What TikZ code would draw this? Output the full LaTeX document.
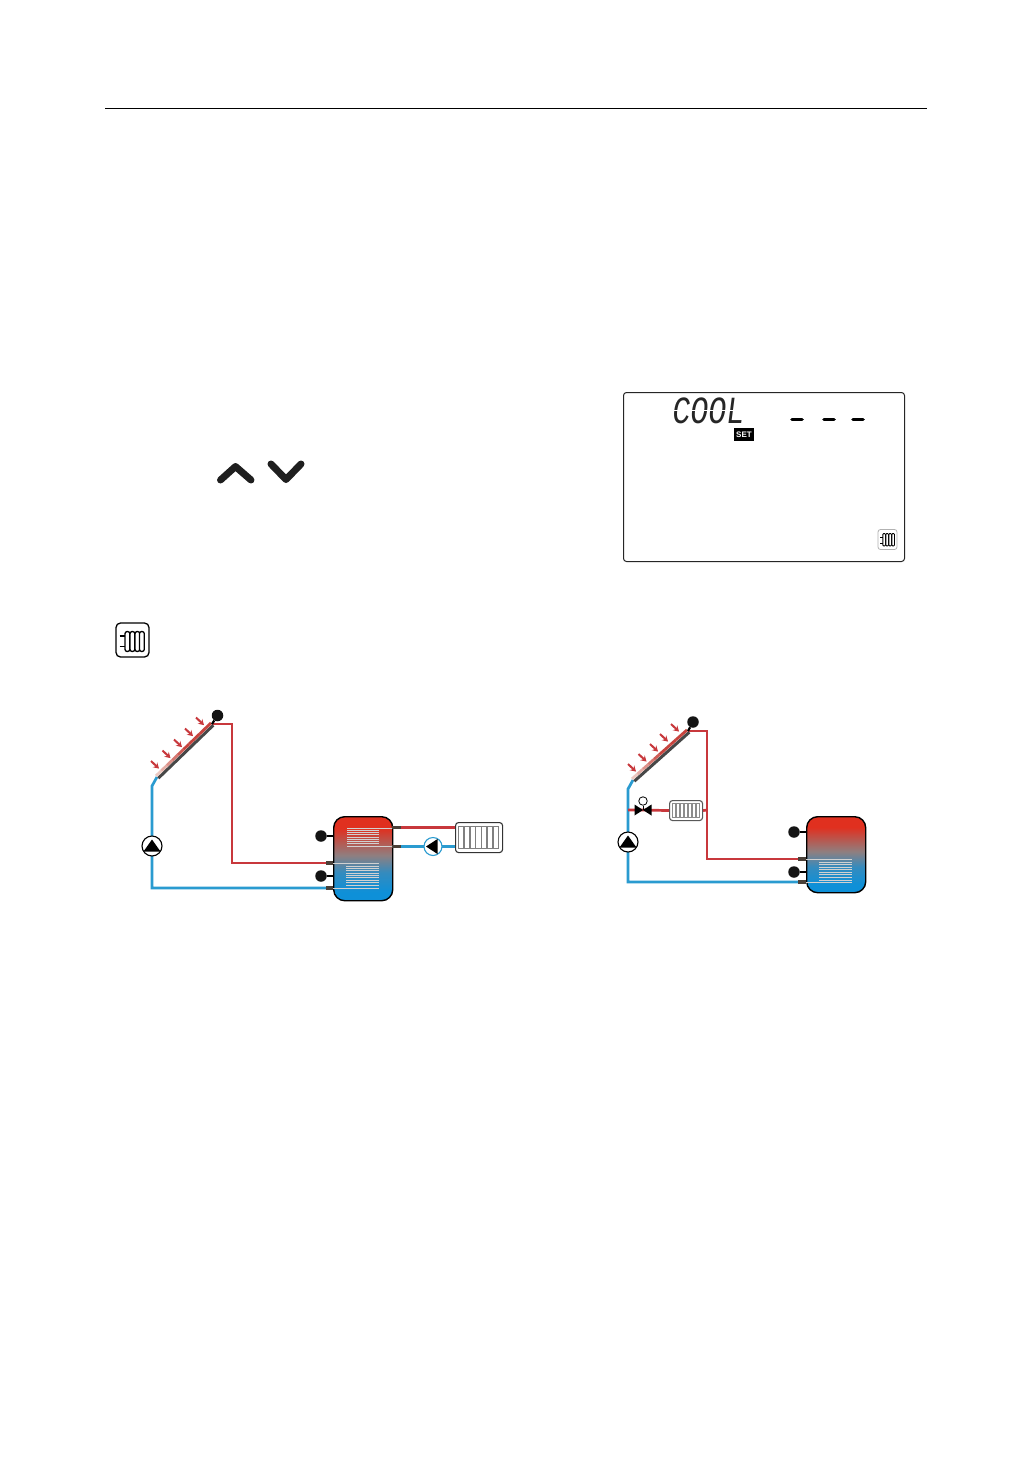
\documentclass[tikz,border=0pt]{standalone}
\usepackage{fontspec}
\setmainfont{Liberation Sans}
\newfontfamily\lcdfont{Liberation Mono}
\usetikzlibrary{arrows.meta,calc}
\definecolor{pred}{HTML}{C8383C}
\definecolor{pblue}{HTML}{2A9BD0}
\definecolor{stubc}{HTML}{4A4038}
\definecolor{tanktop}{HTML}{E0301F}
\definecolor{tankmid}{HTML}{8F7F80}
\definecolor{tankbot}{HTML}{0E90D8}
\pgfdeclareverticalshading{tankshade}{100bp}{color(0bp)=(tankbot);color(30bp)=(tankbot);color(42bp)=(tankbot!70!tankmid);color(52bp)=(tankmid);color(68bp)=(tanktop);color(100bp)=(tanktop)}
\tikzset{
  x=1pt,y=-1pt,
  pipered/.style={draw=pred,line width=2.7pt,line join=miter},
  pipeblue/.style={draw=pblue,line width=2.7pt,line join=miter},
  stubline/.style={draw=stubc,line width=3.8pt},
  sensor/.style={circle,fill=black!92,inner sep=0pt,minimum size=11.5pt},
  sensorstem/.style={draw=black,line width=2.2pt},
  tank/.style={draw=black,line width=1.4pt,rounded corners=11pt,inner sep=0pt},
  pumpnode/.style={circle,draw=#1,fill=white,line width=1.1pt,inner sep=0pt,minimum size=20pt},
  radnode/.style={draw=#1,fill=white,rounded corners=3pt,inner sep=0pt},
  tube/.style={draw=black!50,line width=1pt,fill=white},
  icontube/.style={draw=black,line width=1.3pt,fill=white,rounded corners=2.2pt},
  coilline/.style={draw=black!18,line width=1pt},
  sunarrow/.style={draw=pred,line width=2pt,-{Stealth[length=5.5pt,width=6.5pt]}},
  chev/.style={draw=black!88,line width=7pt,line cap=round,line join=round},
  lcddash/.style={draw=black,line width=3.6pt,line cap=round},
  lcdcut/.style={draw=white,line width=1.1pt}
}
\newcommand{\tankfill}[5]{% name, x1,y1,x2,y2
  \pgfmathsetmacro{\tw}{#4-#2}\pgfmathsetmacro{\th}{#5-#3}
  \node[tank,minimum width=\tw pt,minimum height=\th pt,anchor=north west,
        shading=tankshade] (#1) at (#2,#3) {};
}
\newcommand{\coil}[5]{% x1,x2,y1,y2,n
  \foreach \i in {0,...,#5}{
    \draw[coilline] ({#1},{#3+(#4-#3)*\i/#5}) -- ({#2},{#3+(#4-#3)*\i/#5});
  }
}
\newcommand{\collector}[2]{% low, high coordinates
  \draw[draw=black!72,line width=3pt] ($(#1)+(1.3,1.2)$) -- ($(#2)+(1.3,1.2)$);
  \foreach \s/\t in {0/1,1/2,2/3,3/4,4/5,5/6,6/7,7/8,8/9,9/10}{
    \pgfmathsetmacro{\m}{max(0,95-\t*16)}
    \draw[draw=white!\m!pred!85!brown,line width=2.8pt]
       ($(#1)!\s/10!(#2)+(-1,-1.1)$) -- ($(#1)!\t/10!(#2)+(-1,-1.1)$);
  }
}
\newcommand{\sunarrows}[1]{% list of x/y
  \foreach \cx/\cy in {#1}{
    \draw[sunarrow] (\cx-4,\cy-4) -- (\cx+4,\cy+3.6);
  }
}
\begin{document}
\begin{tikzpicture}
\useasboundingbox[fill=white] (0,0) rectangle (1032,1457);
% top rule
\coordinate (ruleL) at (105,108.5); \coordinate (ruleR) at (927,108.5);
\draw[black,line width=.9pt] (ruleL) -- (ruleR);
% LCD
\node[draw=black!85,line width=1pt,rounded corners=3pt,minimum width=281pt,minimum height=169pt,inner sep=0pt,anchor=north west] (lcd) at (623,392) {};
\node[inner sep=0pt,xslant=.13,yscale=1.28,transform shape,font=\lcdfont\fontsize{30}{30}\selectfont,text=black!85] (cool) at (709,411) {COOL};
\draw[lcdcut] (668,410.8) -- (750,410.8);
\foreach \gx in {676,693,711,729}{\draw[lcdcut] (\gx,397) -- (\gx+.3,401.5);\draw[lcdcut] (\gx-2.5,420) -- (\gx-2.2,424.5);}
\node[fill=black,inner sep=0pt,minimum width=20pt,minimum height=13pt,text=white,font=\bfseries\fontsize{8}{8}\selectfont] (setbox) at (744,434.5) {SET};
\coordinate (d1a) at (792,419.3);\coordinate (d1b) at (802,419.3);
\coordinate (d2a) at (824,419.3);\coordinate (d2b) at (834,419.3);
\coordinate (d3a) at (853,419.3);\coordinate (d3b) at (863,419.3);
\draw[lcddash] (d1a)--(d1b); \draw[lcddash] (d2a)--(d2b); \draw[lcddash] (d3a)--(d3b);
% small icon
\node[draw=black!30,line width=.8pt,rounded corners=2.5pt,minimum width=19pt,minimum height=20pt,inner sep=0pt] (iconS) at (887.5,539.5) {};
\foreach \x in {884,887,890,893}{\draw[draw=black,line width=.9pt,fill=white,rounded corners=1pt] (\x-1.2,533.5) rectangle (\x+1.5,546);}
\draw[black,line width=.9pt] (880,537)--(883,537) (880,543)--(883,543);
% chevrons
\coordinate (ua) at (220.5,480); \coordinate (ub) at (235.5,466.5); \coordinate (uc) at (251,480);
\coordinate (da) at (271,464); \coordinate (db) at (286,479.5); \coordinate (dc) at (301,464);
\draw[chev] (ua)--(ub)--(uc);
\draw[chev] (da)--(db)--(dc);
% big icon
\node[draw=black,line width=1.3pt,rounded corners=4.5pt,minimum width=33pt,minimum height=34pt,inner sep=0pt] (iconB) at (132.5,640) {};
\foreach \x in {127.5,132.5,137.5,142}{\draw[icontube] (\x-2.5,631.5) rectangle (\x+2.3,651.5);}
\draw[black,line width=1.3pt] (119.5,636)--(125,636) (119.5,646.5)--(125,646.5);
%%%%%%%% LEFT SYSTEM
\coordinate (cAl) at (157,777); \coordinate (cAh) at (212,724);
\coordinate (rA1) at (232,724); \coordinate (rA2) at (232,863); \coordinate (sA1) at (326,863);
\coordinate (bA1) at (152,786); \coordinate (bA2) at (152,888); \coordinate (sA2) at (326,888);
\draw[pipered] (cAh) -- (rA1) -- (rA2) -- (sA1);
\draw[pipeblue] (cAl) -- (bA1) -- (bA2) -- (sA2);
\collector{cAl}{cAh}
\node[sensor] (senA) at (217.5,715.5) {};
\draw[sensorstem] (senA) -- (cAh);
\sunarrows{155/765,166.5/754.5,178/743.5,189/732.5,200/721.5}
\node[pumpnode=black] (pumpA) at (152,846) {};
\fill[black] (152,839.5) -- (160.5,851.5) -- (143.5,851.5) -- cycle;
% left tank
\tankfill{tankA}{333}{816}{392}{900}
\coil{347}{379}{830.5}{843.5}{6}
\draw[coilline] (392,828) -- (347,828);
\draw[coilline] (392,846) -- (347,846);
\coil{346}{379}{866}{885}{8}
\draw[coilline] (333,863) -- (379,863);
\draw[coilline] (333,888) -- (379,888);
\coordinate (tAa) at (333,863); \coordinate (tAb) at (333,888);
\coordinate (tAc) at (392,827.5); \coordinate (tAd) at (392,846.5);
\coordinate (oAc) at (401,827.5); \coordinate (oAd) at (401,846.5);
\draw[stubline] (sA1) -- (tAa); \draw[stubline] (sA2) -- (tAb);
\node[sensor] (senB) at (321,836) {}; \node[sensor] (senC) at (321,876) {};
\draw[sensorstem] (senB) -- (333,836); \draw[sensorstem] (senC) -- (333,876);
% radiator A
\node[radnode=black!80,line width=1.1pt,minimum width=47pt,minimum height=30pt,anchor=north west] (radA) at (455,822) {};
\foreach \x in {461,466.8,472.6,478.4,484.2,490,495.8}{\draw[tube] (\x-2.6,826) rectangle (\x+2.6,848);}
\draw[pipered] (oAc) -- (radA.west |- oAc);
\draw[pipeblue] (oAd) -- (radA.west |- oAd);
\draw[stubline] (tAc) -- (oAc); \draw[stubline] (tAd) -- (oAd);
\node[pumpnode=pblue,minimum size=18pt] (pumpB) at (433,846.5) {};
\fill[black] (426,846.5) -- (437.5,839) -- (437.5,854) -- cycle;
%%%%%%%% RIGHT SYSTEM
\coordinate (cBl) at (633,780); \coordinate (cBh) at (688,731);
\coordinate (rB1) at (707,731); \coordinate (rB2) at (707,859); \coordinate (sB1) at (798,859);
\coordinate (bB1) at (628,789); \coordinate (bB2) at (628,882); \coordinate (sB2) at (798,882);
\draw[pipered] (cBh) -- (rB1) -- (rB2) -- (sB1);
\draw[pipeblue] (cBl) -- (bB1) -- (bB2) -- (sB2);
\collector{cBl}{cBh}
\node[sensor] (senD) at (693,722) {};
\draw[sensorstem] (senD) -- (cBh);
\sunarrows{632/768,642.5/758,654/748,664/738,675/728}
\node[pumpnode=black] (pumpC) at (628,842) {};
\fill[black] (628,835.5) -- (636.5,847.5) -- (619.5,847.5) -- cycle;
% branch with valve + radiator
\node[radnode=black!65,line width=1.1pt,minimum width=33pt,minimum height=20pt,anchor=north west] (radB) at (669,800) {};
\foreach \x in {674,678,682,686,690,694,698}{\draw[draw=black!45,line width=1pt,fill=white] (\x-1.5,803) rectangle (\x+1.5,817.5);}
\coordinate (vB) at (643,810);
\coordinate (brL) at (628,810); \coordinate (brR) at (707,810);
\draw[pipered] (brL) -- (vB) -- (radB.west);
\draw[pipered] (radB.east) -- (brR);
\fill[black] (634.5,804.5) -- (643,810) -- (634.5,815.5) -- cycle;
\fill[black] (651.5,804.5) -- (643,810) -- (651.5,815.5) -- cycle;
\node[circle,draw=black,line width=.8pt,fill=white,inner sep=0pt,minimum size=8.5pt] (valveHead) at (643,801) {};
\draw[black,line width=.8pt] (valveHead) -- (vB);
% right tank
\tankfill{tankB}{806}{816}{865}{892}
\coil{819}{852}{862}{880}{7}
\draw[coilline] (806,859) -- (852,859);
\draw[coilline] (806,882) -- (852,882);
\coordinate (tBa) at (806,859); \coordinate (tBb) at (806,882);
\draw[stubline] (sB1) -- (tBa); \draw[stubline] (sB2) -- (tBb);
\node[sensor] (senE) at (794,832) {}; \node[sensor] (senF) at (794,872) {};
\draw[sensorstem] (senE) -- (806,832); \draw[sensorstem] (senF) -- (806,872);
\end{tikzpicture}
\end{document}
